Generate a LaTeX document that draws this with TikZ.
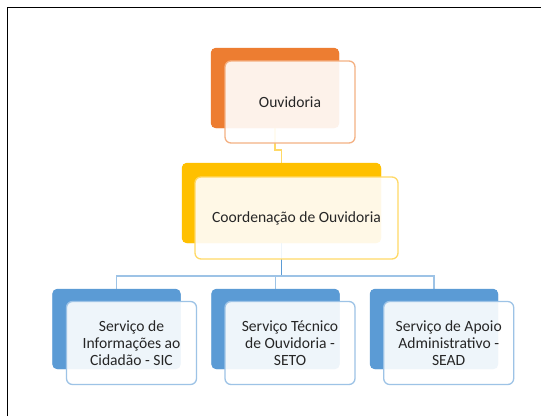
\documentclass[tikz,border=0pt]{standalone}
\usepackage{fontspec}
\setmainfont{Carlito}
\usetikzlibrary{calc}
\definecolor{orgA}{HTML}{ED7D31}
\definecolor{orgB}{HTML}{F4B183}
\definecolor{golA}{HTML}{FFC000}
\definecolor{golB}{HTML}{FFD966}
\definecolor{bluA}{HTML}{5B9BD5}
\definecolor{bluB}{HTML}{9DC3E6}
\definecolor{txt}{HTML}{262626}
\begin{document}
\begin{tikzpicture}[x=1pt,y=-1pt,
  backbox/.style={rounded corners=5pt, minimum width=128pt, minimum height=80pt, inner sep=0pt},
  frontbox/.style={rounded corners=6pt, fill=white, fill opacity=0.9, text opacity=1, line width=1.3pt,
     minimum width=130pt, minimum height=82pt, inner sep=0pt, align=center, text=txt,
     font=\fontsize{15.6}{17.3}\selectfont},
  lnk/.style={line width=1.3pt}]
\useasboundingbox (0,0) rectangle (541,416);
\fill[white] (0,0) rectangle (541,416);
\draw[line width=1.5pt] (7.5,416) -- (7.5,7.5) -- (541,7.5);
% back boxes
\node[backbox, fill=orgA] (ob) at (275,88) {};
\node[backbox, fill=golA, minimum width=199pt] (cb) at (281.5,203) {};
\node[backbox, fill=bluA] (sb) at (116.5,329) {};
\node[backbox, fill=bluA] (tb) at (275.5,329) {};
\node[backbox, fill=bluA] (ab) at (434,329) {};
% connectors
\coordinate (j1) at (275,150);
\draw[lnk, golB] (ob.south) -- (j1) -| (cb.north);
\coordinate (bus) at (281.5,276);
\draw[lnk, bluA, line width=1.8pt] (cb.south) -- (bus);
\draw[lnk, bluB] (sb.north) |- (bus) -| (ab.north);
\draw[lnk, bluB] (tb.north) -- (tb.north |- bus);
% redraw back boxes over connector ends
\fill[orgA, rounded corners=5pt] (ob.north west) rectangle (ob.south east);
\fill[golA, rounded corners=5pt] (cb.north west) rectangle (cb.south east);
\fill[bluA, rounded corners=5pt] (sb.north west) rectangle (sb.south east);
\fill[bluA, rounded corners=5pt] (tb.north west) rectangle (tb.south east);
\fill[bluA, rounded corners=5pt] (ab.north west) rectangle (ab.south east);
% front boxes
\node[frontbox, draw=orgB] (of) at (290,102) {Ouvidoria};
\node[frontbox, draw=golB, minimum width=203pt] (cf) at (296.5,218) {Coordenação de Ouvidoria};
\node[frontbox, draw=bluB, minimum height=83pt] (sf) at (131.5,343) {Serviço de\\Informações ao\\Cidadão - SIC};
\node[frontbox, draw=bluB, minimum height=83pt] (tf) at (290,343) {Serviço Técnico\\de Ouvidoria -\\SETO};
\node[frontbox, draw=bluB, minimum height=83pt] (af) at (448.7,343) {Serviço de Apoio\\Administrativo -\\SEAD};
\end{tikzpicture}
\end{document}
